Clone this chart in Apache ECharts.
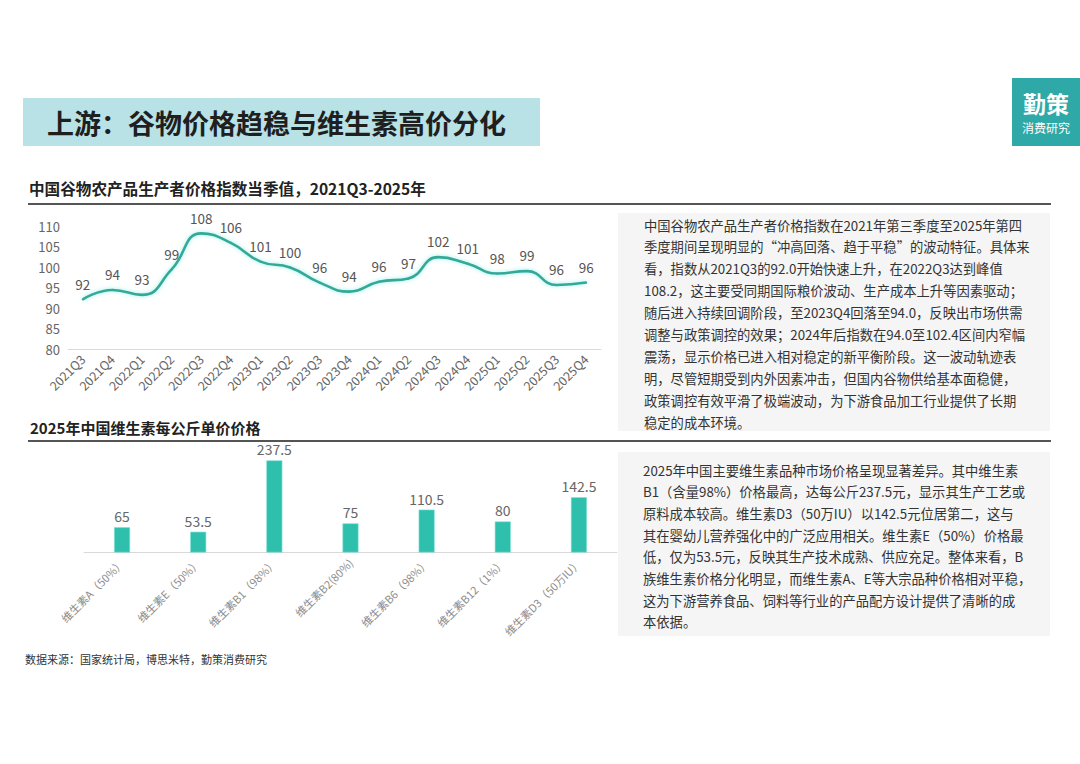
<!DOCTYPE html>
<html>
<head>
<meta charset="utf-8">
<script src="https://cdn.jsdelivr.net/npm/echarts@6/dist/echarts.min.js"></script>
<style>
html,body{margin:0;padding:0;background:#fff;}
#c{width:1080px;height:764px;}
</style>
</head>
<body>
<div id="c"></div>
<script>
// ---- data ----
var quarters = ['2021Q3','2021Q4','2022Q1','2022Q2','2022Q3','2022Q4','2023Q1','2023Q2','2023Q3','2023Q4','2024Q1','2024Q2','2024Q3','2024Q4','2025Q1','2025Q2','2025Q3','2025Q4'];
var priceIndex = [92.1,94.4,93.2,99.4,108.2,105.9,101.3,99.9,96.2,94.0,96.4,97.2,102.4,100.8,98.4,99.0,95.6,96.2];
var yTicks = [80,85,90,95,100,105,110];

var vitamins = ['维生素A（50%）','维生素E（50%）','维生素B1（98%）','维生素B2(80%)','维生素B6（98%）','维生素B12（1%）','维生素D3（50万IU）'];
var vitaminPrice = [65,53.5,237.5,75,110.5,80,142.5];

var titleText = '上游：谷物价格趋稳与维生素高价分化';
var heading1 = '中国谷物农产品生产者价格指数当季值，2021Q3-2025年';
var heading2 = '2025年中国维生素每公斤单价价格';
var sourceText = '数据来源：国家统计局，博思米特，勤策消费研究';
var para1 = [
 '中国谷物农产品生产者价格指数在2021年第三季度至2025年第四',
 '季度期间呈现明显的“冲高回落、趋于平稳”的波动特征。具体来',
 '看，指数从2021Q3的92.0开始快速上升，在2022Q3达到峰值',
 '108.2，这主要受同期国际粮价波动、生产成本上升等因素驱动；',
 '随后进入持续回调阶段，至2023Q4回落至94.0，反映出市场供需',
 '调整与政策调控的效果；2024年后指数在94.0至102.4区间内窄幅',
 '震荡，显示价格已进入相对稳定的新平衡阶段。这一波动轨迹表',
 '明，尽管短期受到内外因素冲击，但国内谷物供给基本面稳健，',
 '政策调控有效平滑了极端波动，为下游食品加工行业提供了长期',
 '稳定的成本环境。'
];
var para2 = [
 '2025年中国主要维生素品种市场价格呈现显著差异。其中维生素',
 'B1（含量98%）价格最高，达每公斤237.5元，显示其生产工艺或',
 '原料成本较高。维生素D3（50万IU）以142.5元位居第二，这与',
 '其在婴幼儿营养强化中的广泛应用相关。维生素E（50%）价格最',
 '低，仅为53.5元，反映其生产技术成熟、供应充足。整体来看，B',
 '族维生素价格分化明显，而维生素A、E等大宗品种价格相对平稳，',
 '这为下游营养食品、饲料等行业的产品配方设计提供了清晰的成',
 '本依据。'
];

var FONT = '"Noto Sans CJK SC","Noto Sans",sans-serif';
var chart = echarts.init(document.getElementById('c'), null, {renderer:'svg'});

var graphics = [
  {type:'rect', shape:{x:23,y:98,width:517,height:48}, style:{fill:'#b8e2e5'}},
  {type:'text', style:{text:titleText, x:47, y:122, fill:'#1f1f1f', font:'bold 27px '+FONT, textVerticalAlign:'middle'}},
  {type:'rect', shape:{x:1012,y:78,width:68,height:68}, style:{fill:'#2fa9a7'}},
  {type:'text', style:{text:'勤策', x:1046, y:103, fill:'#fff', font:'bold 23px '+FONT, textAlign:'center', textVerticalAlign:'middle'}},
  {type:'text', style:{text:'消费研究', x:1046, y:127, fill:'#fff', font:'12px '+FONT, textAlign:'center', textVerticalAlign:'middle'}},
  {type:'text', style:{text:heading1, x:29, y:188, fill:'#222', font:'bold 15.6px '+FONT, textVerticalAlign:'middle'}},
  {type:'rect', shape:{x:28,y:203,width:1023,height:2}, style:{fill:'#555'}},
  {type:'text', style:{text:heading2, x:30, y:427, fill:'#222', font:'bold 15px '+FONT, textVerticalAlign:'middle'}},
  {type:'rect', shape:{x:28,y:440,width:1023,height:2}, style:{fill:'#555'}},
  {type:'rect', shape:{x:618,y:213,width:432,height:218}, style:{fill:'#f5f5f5'}},
  {type:'rect', shape:{x:618,y:452,width:432,height:184}, style:{fill:'#f5f5f5'}},
  {type:'text', style:{text:sourceText, x:25, y:659, fill:'#333', font:'11px '+FONT, textVerticalAlign:'middle'}}
];
para1.forEach(function(t,i){
  graphics.push({type:'text', style:{text:t, x:644, y:225+i*21.9, fill:'#333', font:'13.3px '+FONT, textVerticalAlign:'middle'}});
});
para2.forEach(function(t,i){
  graphics.push({type:'text', style:{text:t, x:643, y:470+i*21.7, fill:'#333', font:'13.3px '+FONT, textVerticalAlign:'middle'}});
});

chart.setOption({
  animation:false,
  textStyle:{fontFamily:FONT},
  grid:[
    {left:68, top:226, width:533, height:123},
    {left:84, top:455.5, width:533, height:97}
  ],
  xAxis:[
    {type:'category', gridIndex:0, data:quarters, boundaryGap:true,
     axisLine:{lineStyle:{color:'#d9d9d9'}}, axisTick:{show:false},
     axisLabel:{rotate:45, color:'#666', fontSize:12.5, margin:8, interval:0}},
    {type:'category', gridIndex:1, data:vitamins, boundaryGap:true,
     axisLine:{lineStyle:{color:'#d9d9d9'}}, axisTick:{show:false},
     axisLabel:{rotate:45, color:'#8c8c8c', fontSize:11, margin:8, interval:0}}
  ],
  yAxis:[
    {type:'value', gridIndex:0, min:yTicks[0], max:yTicks[yTicks.length-1], interval:5,
     axisLine:{show:false}, axisTick:{show:false}, splitLine:{show:false},
     axisLabel:{color:'#666', fontSize:13, margin:8}},
    {type:'value', gridIndex:1, min:0, max:250, show:false, splitLine:{show:false}}
  ],
  series:[
    {type:'line', xAxisIndex:0, yAxisIndex:0, data:priceIndex, smooth:0.5,
     symbol:'circle', symbolSize:2, showSymbol:true, itemStyle:{color:'#35a898'},
     lineStyle:{color:'#35a898', width:2.6, shadowColor:'rgba(80,230,215,0.6)', shadowBlur:4},
     label:{show:true, position:'top', distance:8, color:'#555', fontSize:13.5,
       formatter:function(p){return String(Math.round(p.value));}}},
    {type:'bar', xAxisIndex:1, yAxisIndex:1, data:vitaminPrice, barWidth:16,
     itemStyle:{color:'#2ebfad', borderColor:'#7fe3d8', borderWidth:0.6},
     label:{show:true, position:'top', distance:4, color:'#666', fontSize:14}}
  ],
  graphic:graphics
});
</script>
</body>
</html>
